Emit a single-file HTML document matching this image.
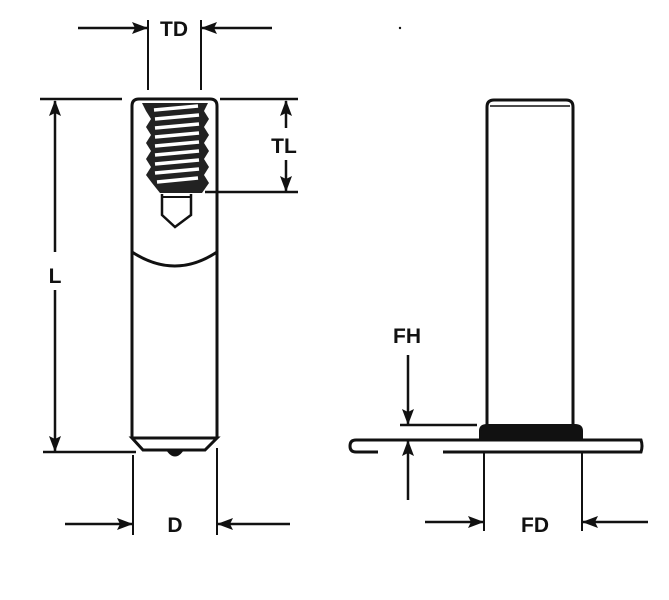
<!DOCTYPE html>
<html><head><style>body{margin:0;background:#fff}svg{display:block}text{font-family:"Liberation Sans",sans-serif;font-weight:bold;font-size:21px;fill:#111}</style></head><body>
<svg width="669" height="600" viewBox="0 0 669 600" xmlns="http://www.w3.org/2000/svg">
<defs>
<marker id="a" markerWidth="16" markerHeight="12" refX="15" refY="6" orient="auto" markerUnits="userSpaceOnUse"><path d="M0,0 L16,6 L0,12 L3,6z" fill="#111"/></marker>
</defs>
<g stroke="#111" stroke-width="2" fill="none">
<line x1="148" y1="20" x2="148" y2="90"/><line x1="201" y1="20" x2="201" y2="90"/>
<line x1="78" y1="28" x2="147" y2="28" stroke-width="2.5" marker-end="url(#a)"/>
<line x1="272" y1="28" x2="202" y2="28" stroke-width="2.5" marker-end="url(#a)"/>
<line x1="40" y1="99" x2="122" y2="99" stroke-width="2.5"/>
<line x1="220" y1="99" x2="298" y2="99" stroke-width="2.5"/>
<line x1="55" y1="252" x2="55" y2="101" stroke-width="2.5" marker-end="url(#a)"/>
<line x1="55" y1="290" x2="55" y2="451" stroke-width="2.5" marker-end="url(#a)"/>
<line x1="43" y1="452" x2="136" y2="452" stroke-width="2.5"/>
<line x1="286" y1="128" x2="286" y2="101" stroke-width="2.5" marker-end="url(#a)"/>
<line x1="286" y1="160" x2="286" y2="191" stroke-width="2.5" marker-end="url(#a)"/>
<line x1="205" y1="192" x2="298" y2="192" stroke-width="2.5"/>
<line x1="133" y1="455" x2="133" y2="535"/><line x1="217" y1="448" x2="217" y2="535"/>
<line x1="65" y1="524" x2="132" y2="524" stroke-width="2.5" marker-end="url(#a)"/>
<line x1="290" y1="524" x2="218" y2="524" stroke-width="2.5" marker-end="url(#a)"/>
<path d="M132,438 L132,106 Q132,99 139,99 L210,99 Q217,99 217,106 L217,438" stroke-width="3"/>
<path d="M132,438 L217,438 L205,450 L143,450 Z" stroke-width="3"/>
<path d="M168,451 Q175,460 182,451" fill="#111"/>
<path d="M132,252 Q175,280 217,252" stroke-width="3"/>
<path d="M162,194 L162,215 L175,227 L191,215 L191,194" stroke-width="2.5"/>
<line x1="163" y1="197" x2="190" y2="197"/>
</g>
<path d="M142,103 L208,103 L204,111 L209,119 L204,127 L209,135 L204,143 L209,151 L204,159 L209,167 L204,175 L209,183 L202,193 L160,193 L152,183 L146,175 L151,167 L146,159 L151,151 L146,143 L151,135 L146,127 L151,119 L146,111 Z" fill="#222"/>
<g stroke="#fff" stroke-width="3.5">
<line x1="154" y1="110" x2="198" y2="106"/><line x1="155" y1="119" x2="199" y2="115"/><line x1="155" y1="128" x2="199" y2="124"/><line x1="155" y1="137" x2="199" y2="133"/><line x1="155" y1="146" x2="199" y2="142"/><line x1="155" y1="155" x2="199" y2="151"/><line x1="155" y1="164" x2="199" y2="160"/><line x1="155" y1="173" x2="199" y2="169"/><line x1="157" y1="182" x2="198" y2="178"/>
</g>
<g stroke="#111" stroke-width="2" fill="none">
<path d="M487,427 L487,107 Q487,100 494,100 L566,100 Q573,100 573,107 L573,427" stroke-width="3"/>
<line x1="490" y1="106" x2="570" y2="106" stroke-width="1.5"/>
<path d="M480,440 L480,431 Q480,425 487,425 L575,425 Q582,425 582,431 L582,440 Z" fill="#111"/>
<path d="M378,452 L356,452 Q350,452 350,446 Q350,440 356,440 L641,440 Q643,446 641,452 L443,452" stroke-width="3"/>
<line x1="400" y1="425" x2="477" y2="425" stroke-width="2.5"/>
<line x1="408" y1="355" x2="408" y2="424" stroke-width="2.5" marker-end="url(#a)"/>
<line x1="408" y1="500" x2="408" y2="441" stroke-width="2.5" marker-end="url(#a)"/>
<line x1="484" y1="452" x2="484" y2="531"/><line x1="582" y1="452" x2="582" y2="531"/>
<line x1="425" y1="522" x2="483" y2="522" stroke-width="2.5" marker-end="url(#a)"/>
<line x1="648" y1="522" x2="583" y2="522" stroke-width="2.5" marker-end="url(#a)"/>
</g>
<circle cx="400" cy="28" r="1.2" fill="#111"/>
<text x="174" y="36" text-anchor="middle">TD</text>
<text x="55" y="283" text-anchor="middle">L</text>
<text x="284" y="153" text-anchor="middle">TL</text>
<text x="175" y="532" text-anchor="middle">D</text>
<text x="407" y="343" text-anchor="middle">FH</text>
<text x="535" y="532" text-anchor="middle">FD</text>
</svg>
</body></html>
